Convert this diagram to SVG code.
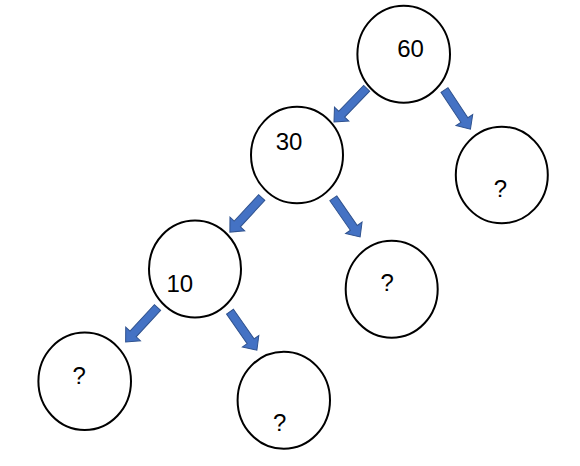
<svg xmlns="http://www.w3.org/2000/svg" xmlns:xlink="http://www.w3.org/1999/xlink" width="580" height="466" viewBox="0 0 580 466">
<style>
.node ellipse{fill:#fff;stroke:#000;stroke-width:2}
.node text{font-family:"Liberation Sans",Arial,sans-serif;font-size:24px;fill:#000}
.arrow{fill:#4472C4;stroke:#2F528F;stroke-width:1}
</style>
<defs>
<path id="arr" d="M0,-4.2 L36,-4.2 L36,-10 L47,0 L36,10 L36,4.2 L0,4.2 Z"/>
</defs>
<rect width="580" height="466" fill="#fff"/>
<g id="connectors">
<use xlink:href="#arr" class="arrow" transform="translate(366.7,88.3) rotate(134.1)"/>
<use xlink:href="#arr" class="arrow" transform="translate(444.5,90) rotate(56.5)"/>
<use xlink:href="#arr" class="arrow" transform="translate(261.7,197.5) rotate(132.6)"/>
<use xlink:href="#arr" class="arrow" transform="translate(333.3,198.3) rotate(55.2)"/>
<use xlink:href="#arr" class="arrow" transform="translate(157.5,307.5) rotate(132.7)"/>
<use xlink:href="#arr" class="arrow" transform="translate(230,311.7) rotate(55.1)"/>
</g>
<g id="n60" class="node"><ellipse cx="403.7" cy="54.2" rx="46.3" ry="48.5"/><text x="397.2" y="56.7">60</text></g>
<g id="n30" class="node"><ellipse cx="297" cy="155" rx="46" ry="48.3"/><text x="275.7" y="150">30</text></g>
<g id="nR" class="node"><ellipse cx="501.8" cy="175" rx="46" ry="48.3"/><text x="493.8" y="197.3">?</text></g>
<g id="n10" class="node"><ellipse cx="195" cy="269" rx="46" ry="48.5"/><text x="166.4" y="291.5">10</text></g>
<g id="n30R" class="node"><ellipse cx="391.7" cy="289.2" rx="46" ry="48.5"/><text x="380.4" y="290.7">?</text></g>
<g id="n10L" class="node"><ellipse cx="84.7" cy="381.3" rx="46.3" ry="48.7"/><text x="72.4" y="384">?</text></g>
<g id="n10R" class="node"><ellipse cx="283.8" cy="400.2" rx="46.2" ry="48.5"/><text x="273" y="430.7">?</text></g>
</svg>
